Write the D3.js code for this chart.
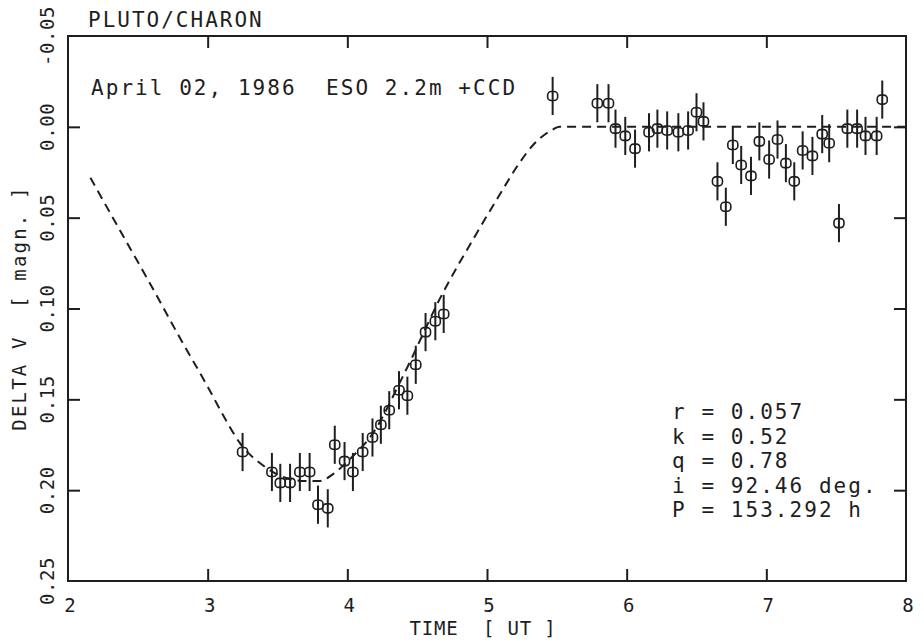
<!DOCTYPE html>
<html>
<head>
<meta charset="utf-8">
<title>Pluto/Charon</title>
<style>
  body { margin: 0; background: #fff; }
  text { font-family: "DejaVu Sans Mono", "Liberation Mono", monospace; fill: #1e1e1e; white-space: pre; }
</style>
</head>
<body>
<svg width="924" height="642"></svg>
<script src="https://d3js.org/d3.v7.min.js"></script>
<script>

// observed points (time UT, delta V in magn.)
var obsTime = [3.25, 3.46, 3.52, 3.59, 3.66, 3.73, 3.79, 3.86, 3.91, 3.98, 4.04, 4.11, 4.18, 4.24, 4.30,
  4.37, 4.43, 4.49, 4.56, 4.63, 4.69,
  5.47, 5.79, 5.87, 5.92, 5.99, 6.06, 6.16, 6.22, 6.29, 6.37, 6.44, 6.50, 6.55,
  6.65, 6.71, 6.76, 6.82, 6.89, 6.95, 7.02, 7.08, 7.14, 7.20, 7.26, 7.33, 7.40, 7.45,
  7.52, 7.58, 7.65, 7.71, 7.79, 7.83];
var obsDeltaV = [0.179, 0.190, 0.196, 0.196, 0.190, 0.190, 0.208, 0.210, 0.175, 0.184, 0.190, 0.179, 0.171, 0.164, 0.156,
  0.145, 0.148, 0.131, 0.113, 0.107, 0.103,
  -0.017, -0.013, -0.013, 0.001, 0.005, 0.012, 0.003, 0.001, 0.002, 0.003, 0.002, -0.008, -0.003,
  0.030, 0.044, 0.010, 0.021, 0.027, 0.008, 0.018, 0.007, 0.020, 0.030, 0.013, 0.016, 0.004, 0.009,
  0.053, 0.001, 0.001, 0.005, 0.005, -0.015];
var obsErr = 0.0105;

// fitted model (dashed)
var modelTime = [2.16, 2.35, 2.60, 2.80, 3.00, 3.12, 3.23, 3.39, 3.55, 3.70, 3.80, 3.90, 4.03, 4.18,
  4.40, 4.68, 4.90, 5.07, 5.24, 5.33, 5.40, 5.46, 5.52, 8.00];
var modelDeltaV = [0.028, 0.054, 0.088, 0.116, 0.143, 0.160, 0.174, 0.186, 0.193, 0.195, 0.195, 0.191, 0.182, 0.169,
  0.137, 0.092, 0.062, 0.040, 0.019, 0.010, 0.005, 0.002, 0.000, 0.000];

var xTicks = [2, 3, 4, 5, 6, 7, 8];
var xTickLabels = ["2", "3", "4", "5", "6", "7", "8"];
var yTicks = [-0.05, 0.00, 0.05, 0.10, 0.15, 0.20, 0.25];
var yTickLabels = ["-0.05", "0.00", "0.05", "0.10", "0.15", "0.20", "0.25"];
var innerTicks = [0.00, 0.05, 0.10, 0.15, 0.20];
var innerXTicks = [3, 4, 5, 6, 7];

var paramLines = ["r = 0.057", "k = 0.52", "q = 0.78", "i = 92.46 deg.", "P = 153.292 h"];

var svg = d3.select("svg");
var x = d3.scaleLinear().domain([2, 8]).range([68, 906]);
var y = d3.scaleLinear().domain([-0.05, 0.25]).range([36, 581]);
var ink = "#1e1e1e";

// frame
svg.append("rect")
  .attr("x", x(2)).attr("y", y(-0.05))
  .attr("width", x(8) - x(2)).attr("height", y(0.25) - y(-0.05))
  .attr("fill", "none").attr("stroke", ink).attr("stroke-width", 2);

// inward ticks on all four sides
function tickAxis(axis, tx, ty) {
  var g = svg.append("g").attr("transform", "translate(" + tx + "," + ty + ")").call(axis);
  g.select(".domain").remove();
  g.selectAll(".tick line").attr("stroke", ink).attr("stroke-width", 2);
}
tickAxis(d3.axisLeft(y).tickValues(innerTicks).tickSize(-12).tickFormat(""), x(2), 0);
tickAxis(d3.axisRight(y).tickValues(innerTicks).tickSize(-12).tickFormat(""), x(8), 0);
tickAxis(d3.axisBottom(x).tickValues(innerXTicks).tickSize(-12).tickFormat(""), 0, y(0.25));
tickAxis(d3.axisTop(x).tickValues(innerXTicks).tickSize(-12).tickFormat(""), 0, y(-0.05));

// tick labels
svg.selectAll(".xlab").data(xTicks).enter().append("text")
  .attr("x", function(d) { return x(d) + 2; })
  .attr("y", 612)
  .attr("text-anchor", "middle")
  .style("font-size", "19px")
  .text(function(d, i) { return xTickLabels[i]; });

svg.selectAll(".ylab").data(yTicks).enter().append("text")
  .attr("transform", function(d) { return "translate(54," + y(d) + ") rotate(-90)"; })
  .attr("text-anchor", "middle")
  .style("font-size", "19px")
  .style("letter-spacing", "0.6px")
  .text(function(d, i) { return yTickLabels[i]; });

// axis titles
svg.append("text")
  .attr("x", 483).attr("y", 635)
  .attr("text-anchor", "middle")
  .style("font-size", "19px")
  .style("letter-spacing", "0.8px")
  .text("TIME  [ UT ]");

svg.append("text")
  .attr("transform", "translate(26,308) rotate(-90)")
  .attr("text-anchor", "middle")
  .style("font-size", "19px")
  .style("letter-spacing", "2.2px")
  .text("DELTA V  [ magn. ]");

// title and annotation
svg.append("text")
  .attr("x", 88).attr("y", 27)
  .style("font-size", "21px")
  .style("letter-spacing", "2px")
  .text("PLUTO/CHARON");

svg.append("text")
  .attr("x", 91).attr("y", 95)
  .style("font-size", "21px")
  .style("letter-spacing", "2.05px")
  .text("April 02, 1986  ESO 2.2m +CCD");

svg.selectAll(".param").data(paramLines).enter().append("text")
  .attr("x", 672)
  .attr("y", function(d, i) { return 419 + i * 24.5; })
  .style("font-size", "21px")
  .style("letter-spacing", "2.05px")
  .text(function(d) { return d; });

// model curve
var model = modelTime.map(function(t, i) { return [t, modelDeltaV[i]]; });
svg.append("path")
  .datum(model)
  .attr("d", d3.line().x(function(d) { return x(d[0]); }).y(function(d) { return y(d[1]); }).curve(d3.curveMonotoneX))
  .attr("fill", "none")
  .attr("stroke", ink)
  .attr("stroke-width", 2)
  .attr("stroke-dasharray", "9,6");

// observations with error bars
var obs = obsTime.map(function(t, i) { return [t, obsDeltaV[i]]; });
var pts = svg.selectAll(".obs").data(obs).enter().append("g");
pts.append("line")
  .attr("x1", function(d) { return x(d[0]); })
  .attr("x2", function(d) { return x(d[0]); })
  .attr("y1", function(d) { return y(d[1] - obsErr); })
  .attr("y2", function(d) { return y(d[1] + obsErr); })
  .attr("stroke", ink).attr("stroke-width", 2);
pts.append("rect")
  .attr("x", function(d) { return x(d[0]) - 5; })
  .attr("y", function(d) { return y(d[1]) - 4.5; })
  .attr("width", 10).attr("height", 9)
  .attr("rx", 3.5)
  .attr("fill", "none")
  .attr("stroke", ink).attr("stroke-width", 1.6);

</script>
</body>
</html>
